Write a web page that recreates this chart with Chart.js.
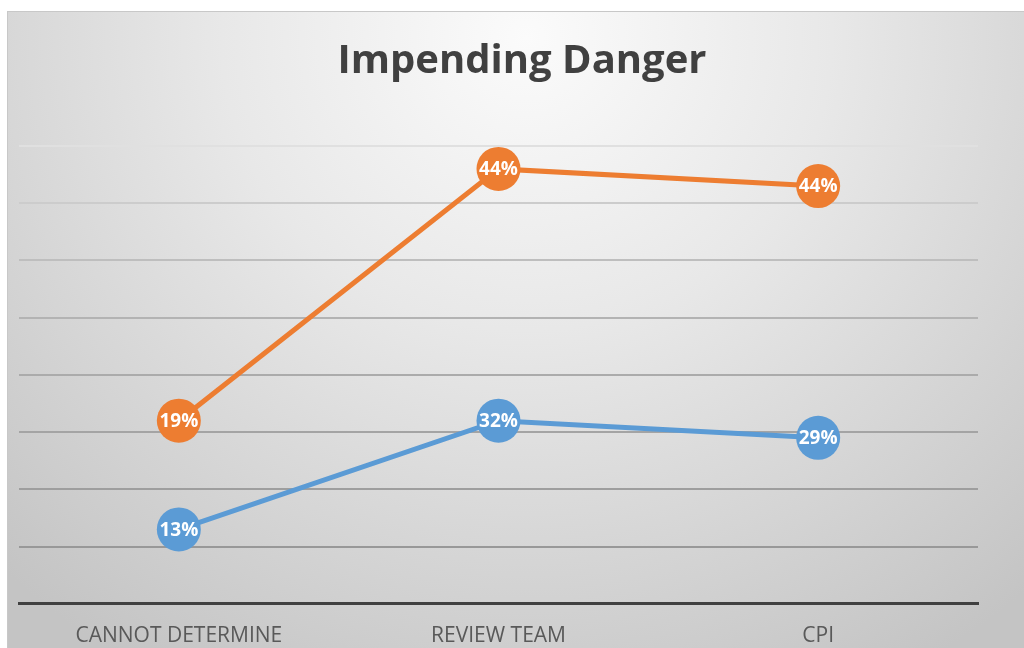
<!DOCTYPE html>
<html>
<head>
<meta charset="utf-8">
<script src="https://cdn.jsdelivr.net/npm/chart.js@4.4.1/dist/chart.umd.min.js"></script>
<style>
  html, body { margin: 0; padding: 0; background: #ffffff; width: 1024px; height: 648px; overflow: hidden; }
  #bg {
    position: absolute; left: 7px; top: 11px; width: 1017px; height: 637px;
    border-top: 1px solid #c8c8c8; border-left: 1px solid #c8c8c8;
    background: radial-gradient(ellipse 75% 115% at 51% 4%, #fbfbfb 0%, #e8e8e8 40%, #d6d6d6 70%, #c4c4c4 100%);
  }
  #wrap { position: absolute; left: 0; top: 0; width: 1024px; height: 648px; }
</style>
</head>
<body>
<div id="bg"></div>
<div id="wrap"><canvas id="c" width="1024" height="648"></canvas></div>
<script>
const chartTitle = "Impending Danger";
const categories = ["CANNOT DETERMINE", "REVIEW TEAM", "CPI"];
const seriesBlue = [13, 32, 29];
const seriesOrange = [19, 44, 44];

const gridShades = { 0: 'rgba(0,0,0,0)', 10: '#989898', 20: '#9e9e9e', 30: '#a4a4a4', 40: '#ababab', 50: '#b3b3b3', 60: '#bebebe', 70: '#cccccc', 80: '#e0e0e0' };

const titlePlugin = {
  id: 'centeredTitle',
  afterDraw(chart) {
    const ctx = chart.ctx;
    ctx.save();
    ctx.font = 'bold 40px "Open Sans", sans-serif';
    ctx.fillStyle = '#404040';
    ctx.textAlign = 'center';
    ctx.textBaseline = 'middle';
    ctx.fillText(chartTitle, 522, 62);
    ctx.restore();
  }
};

const labelPlugin = {
  id: 'pointLabels',
  afterDatasetsDraw(chart) {
    const ctx = chart.ctx;
    ctx.save();
    ctx.font = 'bold 19px "Open Sans", sans-serif';
    ctx.fillStyle = '#ffffff';
    ctx.textAlign = 'center';
    ctx.textBaseline = 'middle';
    chart.data.datasets.forEach((ds, i) => {
      const meta = chart.getDatasetMeta(i);
      meta.data.forEach((pt, j) => {
        ctx.fillText(ds.data[j] + '%', pt.x, pt.y + 1);
      });
    });
    ctx.restore();
  }
};

new Chart(document.getElementById('c'), {
  type: 'line',
  data: {
    labels: categories,
    datasets: [
      { label: 'Blue', data: seriesBlue, borderColor: '#5B9BD5', backgroundColor: '#5B9BD5',
        pointBackgroundColor: '#5B9BD5', pointBorderWidth: 0, pointRadius: 22, pointHoverRadius: 22,
        borderWidth: 5, fill: false, tension: 0 },
      { label: 'Orange', data: seriesOrange, borderColor: '#ED7D31', backgroundColor: '#ED7D31',
        pointBackgroundColor: '#ED7D31', pointBorderWidth: 0, pointRadius: 22, pointHoverRadius: 22,
        borderWidth: 5, fill: false, tension: 0 }
    ]
  },
  options: {
    responsive: false,
    animation: false,
    events: [],
    layout: { autoPadding: false, padding: { left: 19, right: 46, top: 146, bottom: -21 } },
    plugins: {
      legend: { display: false },
      tooltip: { enabled: false },
      title: { display: false }
    },
    scales: {
      x: {
        offset: true,
        grid: { display: false, drawTicks: false },
        border: { display: true, color: '#404040', width: 3 },
        ticks: { color: '#595959', font: { family: '"Open Sans", sans-serif', size: 21 }, padding: 20 }
      },
      y: {
        stacked: true,
        min: 0, max: 80,
        ticks: { display: false, stepSize: 10 },
        border: { display: false },
        grid: { drawTicks: false, lineWidth: 2, color: (c) => gridShades[c.tick.value] || '#aaaaaa' }
      }
    }
  },
  plugins: [labelPlugin, titlePlugin]
});
</script>
</body>
</html>
